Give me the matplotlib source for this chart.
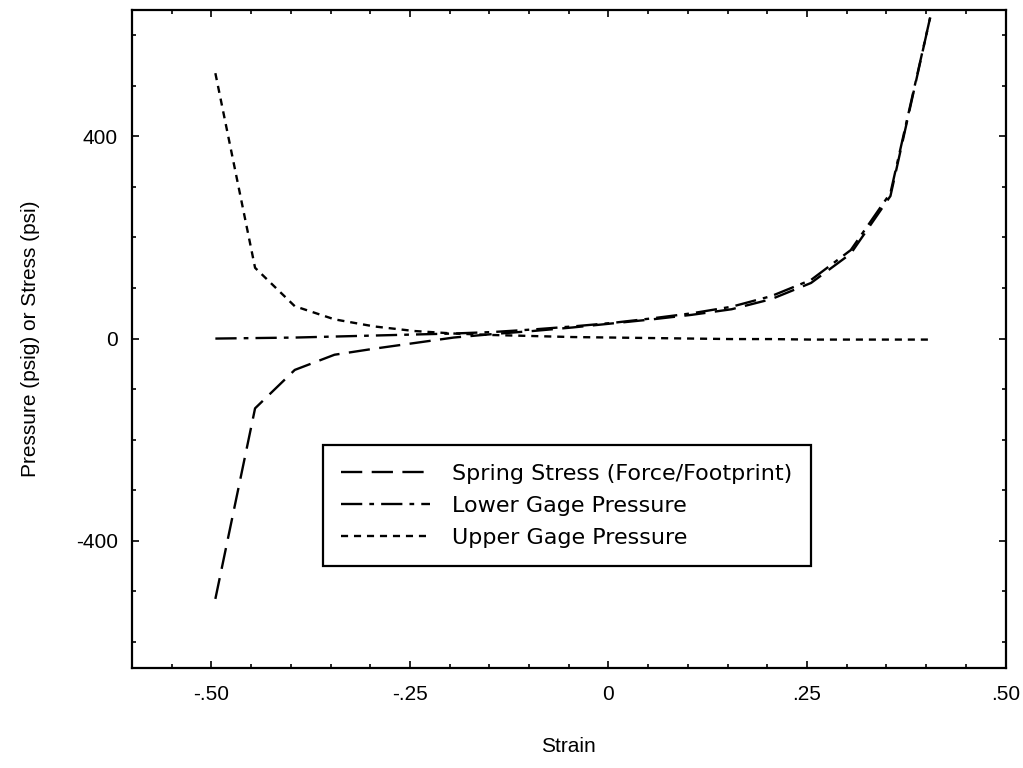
import numpy as np
import matplotlib
matplotlib.use('Agg')
import matplotlib.pyplot as plt
from matplotlib.ticker import MultipleLocator, FixedLocator

plt.rcParams['font.family'] = ['Liberation Sans', 'DejaVu Sans']
plt.rcParams['font.size'] = 15

# data
strain = [-0.495, -0.445, -0.395, -0.345, -0.295, -0.245, -0.195, -0.145, -0.095,
          -0.045, 0.005, 0.055, 0.105, 0.155, 0.205, 0.255, 0.305, 0.355, 0.405]
spring_stress = [-515, -138, -62, -32, -20, -9, 2, 9, 15, 22, 30, 38, 47, 58, 78,
                 110, 168, 282, 635]
lower_gage = [0, 1, 2, 4, 6, 8, 10, 13, 18, 24, 31, 40, 50, 63, 84, 116, 175, 288, 635]
upper_gage = [525, 140, 64, 38, 24, 15, 10, 7, 5, 3, 2, 1, 0, -1, -1, -2, -2, -2, -2]

xtick_vals = [-0.5, -0.25, 0, 0.25, 0.5]
xtick_labels = ['-.50', '-.25', '0', '.25', '.50']
ytick_vals = [-400, 0, 400]
ytick_labels = ['-400', '0', '400']

fig = plt.figure(figsize=(10.23, 7.68), dpi=100)
ax = fig.add_axes([0.129, 0.130, 0.854, 0.857])

ax.plot(strain, spring_stress, color='black', linewidth=1.7,
        linestyle=(0, (9, 4)), label='Spring Stress (Force/Footprint)')
ax.plot(strain, lower_gage, color='black', linewidth=1.7,
        linestyle=(0, (9, 3, 2, 3)), label='Lower Gage Pressure')
ax.plot(strain, upper_gage, color='black', linewidth=1.7,
        linestyle=(0, (3, 2.5)), label='Upper Gage Pressure')

ax.set_xlim(-0.6, 0.5)
ax.set_ylim(-652, 650)

ax.xaxis.set_major_locator(FixedLocator(xtick_vals))
ax.set_xticklabels(xtick_labels)
ax.xaxis.set_minor_locator(MultipleLocator(0.05))
ax.yaxis.set_major_locator(FixedLocator(ytick_vals))
ax.set_yticklabels(ytick_labels)
ax.yaxis.set_minor_locator(MultipleLocator(100))

ax.tick_params(which='both', direction='in', top=True, right=True, width=1.2)
ax.tick_params(which='major', length=5)
ax.tick_params(which='minor', length=3)
ax.tick_params(axis='x', which='major', pad=12, labelsize=15)
ax.tick_params(axis='y', which='major', pad=10, labelsize=15)

for s in ax.spines.values():
    s.set_linewidth(1.6)

ax.set_xlabel('Strain', fontsize=15, labelpad=24)
ax.set_ylabel('Pressure (psig) or Stress (psi)', fontsize=15, labelpad=26)

leg = ax.legend(loc='lower left', bbox_to_anchor=(0.2185, 0.155), borderaxespad=0,
                prop={'family': ['DejaVu Sans'], 'size': 16},
                frameon=True, fancybox=False, edgecolor='black', framealpha=1,
                handlelength=4.0, borderpad=0.83, labelspacing=0.54, handletextpad=1.0)
leg.get_frame().set_linewidth(1.6)

plt.savefig('out.png', dpi=100)
